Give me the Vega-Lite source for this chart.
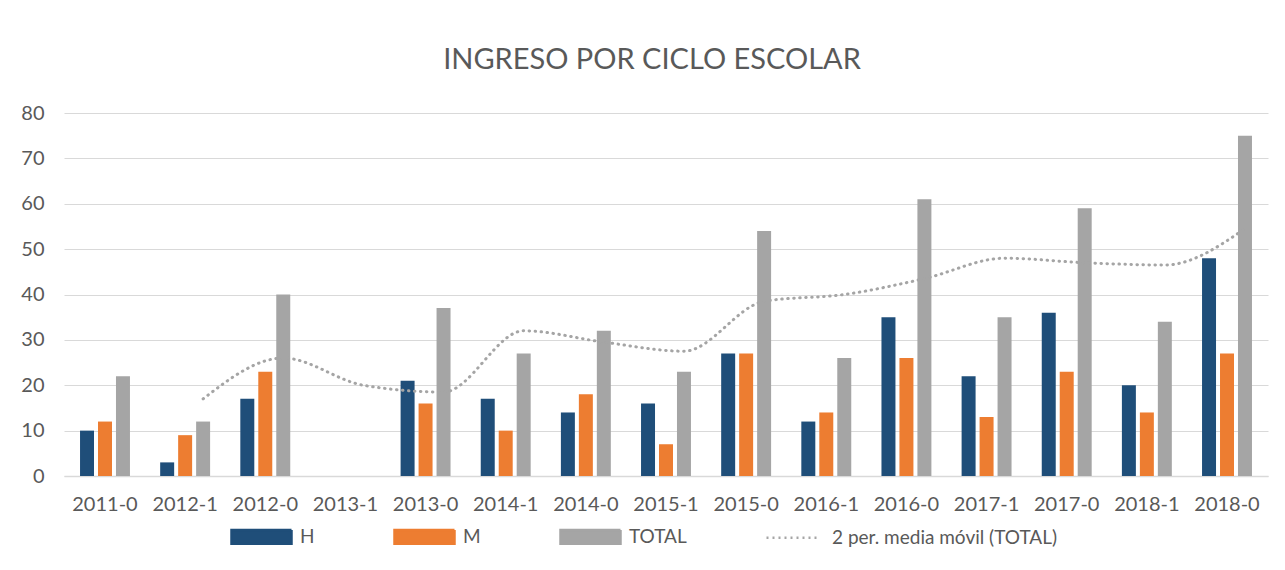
{
  "$schema": "https://vega.github.io/schema/vega-lite/v6.json",
  "width": 1204,
  "height": 363,
  "autosize": {"type": "none"},
  "padding": {"left": 64, "top": 113, "right": 17, "bottom": 94},
  "background": "white",
  "title": {
    "text": "INGRESO POR CICLO ESCOLAR",
    "font": "Lato",
    "fontSize": 29,
    "fontWeight": "normal",
    "color": "#595959",
    "offset": 28,
    "anchor": "middle",
    "dx": -14
  },
  "config": {
    "font": "Lato",
    "view": {"stroke": null},
    "axis": {"labelFont": "Lato", "labelColor": "#595959", "labelFontSize": 20},
    "legend": {"labelFont": "Lato", "labelColor": "#595959", "labelFontSize": 19}
  },
  "datasets": {
    "barras": [
      {"ciclo": "2011-0", "serie": "H", "valor": 10},
      {"ciclo": "2011-0", "serie": "M", "valor": 12},
      {"ciclo": "2011-0", "serie": "TOTAL", "valor": 22},
      {"ciclo": "2012-1", "serie": "H", "valor": 3},
      {"ciclo": "2012-1", "serie": "M", "valor": 9},
      {"ciclo": "2012-1", "serie": "TOTAL", "valor": 12},
      {"ciclo": "2012-0", "serie": "H", "valor": 17},
      {"ciclo": "2012-0", "serie": "M", "valor": 23},
      {"ciclo": "2012-0", "serie": "TOTAL", "valor": 40},
      {"ciclo": "2013-1", "serie": "H", "valor": 0},
      {"ciclo": "2013-1", "serie": "M", "valor": 0},
      {"ciclo": "2013-1", "serie": "TOTAL", "valor": 0},
      {"ciclo": "2013-0", "serie": "H", "valor": 21},
      {"ciclo": "2013-0", "serie": "M", "valor": 16},
      {"ciclo": "2013-0", "serie": "TOTAL", "valor": 37},
      {"ciclo": "2014-1", "serie": "H", "valor": 17},
      {"ciclo": "2014-1", "serie": "M", "valor": 10},
      {"ciclo": "2014-1", "serie": "TOTAL", "valor": 27},
      {"ciclo": "2014-0", "serie": "H", "valor": 14},
      {"ciclo": "2014-0", "serie": "M", "valor": 18},
      {"ciclo": "2014-0", "serie": "TOTAL", "valor": 32},
      {"ciclo": "2015-1", "serie": "H", "valor": 16},
      {"ciclo": "2015-1", "serie": "M", "valor": 7},
      {"ciclo": "2015-1", "serie": "TOTAL", "valor": 23},
      {"ciclo": "2015-0", "serie": "H", "valor": 27},
      {"ciclo": "2015-0", "serie": "M", "valor": 27},
      {"ciclo": "2015-0", "serie": "TOTAL", "valor": 54},
      {"ciclo": "2016-1", "serie": "H", "valor": 12},
      {"ciclo": "2016-1", "serie": "M", "valor": 14},
      {"ciclo": "2016-1", "serie": "TOTAL", "valor": 26},
      {"ciclo": "2016-0", "serie": "H", "valor": 35},
      {"ciclo": "2016-0", "serie": "M", "valor": 26},
      {"ciclo": "2016-0", "serie": "TOTAL", "valor": 61},
      {"ciclo": "2017-1", "serie": "H", "valor": 22},
      {"ciclo": "2017-1", "serie": "M", "valor": 13},
      {"ciclo": "2017-1", "serie": "TOTAL", "valor": 35},
      {"ciclo": "2017-0", "serie": "H", "valor": 36},
      {"ciclo": "2017-0", "serie": "M", "valor": 23},
      {"ciclo": "2017-0", "serie": "TOTAL", "valor": 59},
      {"ciclo": "2018-1", "serie": "H", "valor": 20},
      {"ciclo": "2018-1", "serie": "M", "valor": 14},
      {"ciclo": "2018-1", "serie": "TOTAL", "valor": 34},
      {"ciclo": "2018-0", "serie": "H", "valor": 48},
      {"ciclo": "2018-0", "serie": "M", "valor": 27},
      {"ciclo": "2018-0", "serie": "TOTAL", "valor": 75}
    ],
    "media": [
      {"ciclo": "2012-1", "valor": 17},
      {"ciclo": "2012-0", "valor": 26},
      {"ciclo": "2013-1", "valor": 20},
      {"ciclo": "2013-0", "valor": 18.5},
      {"ciclo": "2014-1", "valor": 32},
      {"ciclo": "2014-0", "valor": 29.5},
      {"ciclo": "2015-1", "valor": 27.5},
      {"ciclo": "2015-0", "valor": 38.5},
      {"ciclo": "2016-1", "valor": 40},
      {"ciclo": "2016-0", "valor": 43.5},
      {"ciclo": "2017-1", "valor": 48},
      {"ciclo": "2017-0", "valor": 47},
      {"ciclo": "2018-1", "valor": 46.5},
      {"ciclo": "2018-0", "valor": 54.5}
    ]
  },
  "encoding": {
    "x": {
      "field": "ciclo",
      "type": "nominal",
      "sort": ["2011-0","2012-1","2012-0","2013-1","2013-0","2014-1","2014-0","2015-1","2015-0","2016-1","2016-0","2017-1","2017-0","2018-1","2018-0"],
      "scale": {"paddingInner": 0.377, "paddingOuter": 0.2},
      "axis": {
        "title": null,
        "labelAngle": 0,
        "ticks": false,
        "domain": true,
        "domainColor": "#D9D9D9",
        "domainWidth": 1.5,
        "labelPadding": 18,
        "grid": false
      }
    },
    "y": {
      "field": "valor",
      "type": "quantitative",
      "scale": {"domain": [0, 80], "nice": false},
      "axis": {
        "title": null,
        "values": [0, 10, 20, 30, 40, 50, 60, 70, 80],
        "ticks": false,
        "domain": false,
        "gridColor": "#D9D9D9",
        "gridWidth": 1.2,
        "labelPadding": 20
      }
    }
  },
  "layer": [
    {
      "data": {"name": "barras"},
      "mark": {"type": "bar"},
      "encoding": {
        "xOffset": {
          "field": "serie",
          "type": "nominal",
          "sort": ["H", "M", "TOTAL"],
          "scale": {"paddingInner": 0.222, "paddingOuter": 0}
        },
        "color": {
          "field": "serie",
          "type": "nominal",
          "scale": {
            "domain": ["H", "M", "TOTAL", "2 per. media móvil (TOTAL)"],
            "range": ["#1F4E79", "#ED7D31", "#A5A5A5", "#A5A5A5"]
          },
          "legend": {
            "title": null,
            "orient": "none",
            "legendX": 166,
            "legendY": 392,
            "direction": "horizontal",
            "columnPadding": 74,
            "symbolSize": 3600,
            "labelOffset": 7,
            "labelLimit": 400,
            "symbolStrokeWidth": 0,
            "encode": {
              "symbols": {
                "update": {
                  "shape": {"signal": "datum.value === '2 per. media móvil (TOTAL)' ? 'M-0.9,0H0.9' : 'M-1,-0.23H1V0.23H-1Z'"},
                  "fill": {"signal": "datum.value === '2 per. media móvil (TOTAL)' ? 'transparent' : scale('color', datum.value)"},
                  "stroke": {"signal": "datum.value === '2 per. media móvil (TOTAL)' ? '#A5A5A5' : 'transparent'"},
                  "strokeWidth": {"value": 2.5},
                  "strokeDash": {"signal": "datum.value === '2 per. media móvil (TOTAL)' ? [2, 4] : [1, 0]"},
                  "opacity": {"value": 1}
                }
              }
            }
          }
        }
      }
    },
    {
      "data": {"name": "media"},
      "mark": {
        "type": "line",
        "interpolate": "monotone",
        "strokeWidth": 3,
        "strokeCap": "round",
        "strokeDash": [0.5, 5.5]
      },
      "encoding": {
        "xOffset": {"datum": "TOTAL"},
        "color": {"datum": "2 per. media móvil (TOTAL)"}
      }
    }
  ]
}
